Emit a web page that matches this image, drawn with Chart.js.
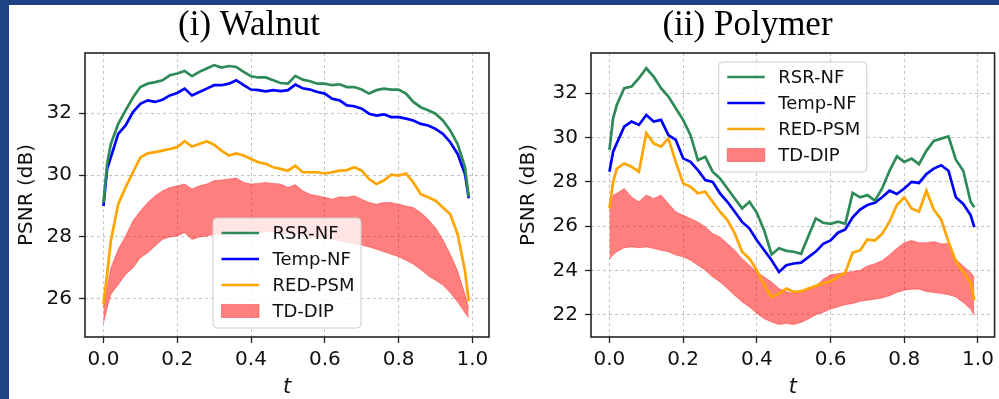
<!DOCTYPE html>
<html>
<head>
<meta charset="utf-8">
<script src="https://cdn.jsdelivr.net/npm/chart.js@4/dist/chart.umd.min.js"></script>
<style>
    html, body { margin: 0; padding: 0; }
    body { width: 999px; height: 399px; background: #1f4287; position: relative; overflow: hidden; }
    #panel { position: absolute; left: 9px; top: 5px; width: 990px; height: 394px; background: #fff; }
    canvas { position: absolute; top: 0; }
    #walnutChart { left: 0; }
    #polymerChart { left: 490px; }
</style>
</head>
<body>
<div id="panel">
    <canvas id="walnutChart" width="490" height="394"></canvas>
    <canvas id="polymerChart" width="500" height="394"></canvas>
</div>
<script>
// Time axis (normalised frame index)
const tValues = [0, 0.01, 0.02, 0.04, 0.06, 0.08, 0.1, 0.12, 0.14, 0.16, 0.18, 0.2, 0.22, 0.24, 0.26, 0.28, 0.3, 0.32, 0.34, 0.36, 0.38, 0.4, 0.42, 0.44, 0.46, 0.48, 0.5,
    0.52, 0.54, 0.56, 0.58, 0.6, 0.62, 0.64, 0.66, 0.68, 0.7, 0.72, 0.74, 0.76, 0.78, 0.8, 0.82, 0.84, 0.86, 0.88, 0.9, 0.92, 0.94, 0.96, 0.98, 0.99];

const xTicks = [0, 0.2, 0.4, 0.6, 0.8, 1.0];
const walnutYTicks = [26, 28, 30, 32];
const polymerYTicks = [22, 24, 26, 28, 30, 32];

// (i) Walnut
const walnutRSR = [29.1, 30.36, 31.0, 31.65, 32.09, 32.5, 32.84, 32.95, 33.0, 33.06, 33.22, 33.28, 33.36, 33.19, 33.33, 33.44, 33.55, 33.47, 33.52, 33.49, 33.33, 33.19, 33.15, 33.15, 33.06, 32.97, 32.95,
    33.2, 33.08, 33.03, 32.95, 32.95, 32.9, 32.93, 32.84, 32.84, 32.76, 32.63, 32.74, 32.79, 32.76, 32.76, 32.63, 32.36, 32.19, 32.09, 31.98, 31.76, 31.44, 31.0, 30.25, 29.3];
const walnutTemp = [29.0, 30.2, 30.57, 31.33, 31.6, 32.03, 32.3, 32.41, 32.36, 32.43, 32.57, 32.65, 32.79, 32.57, 32.68, 32.79, 32.9, 32.9, 32.95, 33.06, 32.9, 32.76, 32.74, 32.7, 32.74, 32.71, 32.74,
    32.92, 32.8, 32.76, 32.68, 32.63, 32.46, 32.41, 32.25, 32.22, 32.14, 31.98, 31.92, 31.96, 31.87, 31.87, 31.82, 31.76, 31.65, 31.6, 31.49, 31.33, 31.06, 30.68, 30.03, 29.25];
const walnutRED = [25.82, 26.8, 27.87, 29.06, 29.6, 30.09, 30.57, 30.7, 30.74, 30.79, 30.84, 30.9, 31.09, 30.92, 31.0, 31.09, 30.98, 30.79, 30.63, 30.7, 30.63, 30.52, 30.41, 30.36, 30.25, 30.2, 30.14,
    30.3, 30.09, 30.09, 30.09, 30.05, 30.09, 30.14, 30.16, 30.25, 30.14, 29.87, 29.71, 29.82, 30.01, 29.98, 30.05, 29.76, 29.38, 29.28, 29.17, 28.95, 28.73, 28.09, 26.9, 25.92];
const walnutDipHigh = [25.7, 26.36, 27.0, 27.6, 28.03, 28.52, 28.84, 29.11, 29.33, 29.49, 29.6, 29.65, 29.71, 29.55, 29.65, 29.71, 29.82, 29.84, 29.87, 29.9, 29.76, 29.71, 29.73, 29.76, 29.73, 29.71, 29.6,
    29.69, 29.49, 29.38, 29.33, 29.28, 29.22, 29.3, 29.28, 29.33, 29.22, 29.11, 29.06, 29.11, 29.11, 29.06, 29.0, 28.95, 28.79, 28.57, 28.3, 27.92, 27.44, 26.9, 26.14, 25.7];
const walnutDipLow = [25.2, 25.7, 26.14, 26.46, 26.79, 27.0, 27.33, 27.49, 27.71, 27.92, 28.0, 28.03, 28.14, 27.92, 28.0, 28.03, 28.09, 28.09, 28.11, 28.1, 28.11, 28.14, 28.14, 28.17, 28.17, 28.1, 28.1,
    28.1, 28.05, 28.0, 28.0, 27.95, 27.92, 27.88, 27.82, 27.78, 27.74, 27.68, 27.6, 27.52, 27.44, 27.36, 27.25, 27.12, 26.95, 26.75, 26.6, 26.45, 26.2, 25.9, 25.55, 25.38];

// (ii) Polymer
const polymerRSR = [29.44, 30.87, 31.47, 32.23, 32.3, 32.68, 33.13, 32.75, 32.23, 31.85, 31.32, 30.8, 30.11, 28.98, 29.13, 28.46, 28.15, 27.7, 27.25, 26.8, 27.1, 26.6, 25.8, 24.72, 25.0, 24.88, 24.84,
    24.75, 25.55, 26.35, 26.15, 26.1, 26.2, 26.1, 27.5, 27.3, 27.4, 27.15, 27.7, 28.5, 29.15, 28.9, 29.05, 28.8, 29.4, 29.85, 29.95, 30.05, 29.0, 28.5, 27.1, 26.85];
const polymerTemp = [28.46, 29.36, 29.74, 30.49, 30.72, 30.57, 31.02, 30.72, 30.8, 30.11, 29.89, 29.06, 28.9, 28.53, 28.08, 28.0, 27.48, 27.1, 26.65, 26.19, 25.89, 25.36, 24.91, 24.46, 23.93, 24.23, 24.31,
    24.35, 24.6, 24.85, 25.2, 25.35, 25.7, 25.85, 26.4, 26.75, 26.95, 27.05, 27.3, 27.6, 27.45, 27.7, 28.0, 27.95, 28.35, 28.6, 28.75, 28.5, 27.3, 27.0, 26.5, 25.95];
const polymerRED = [26.8, 28.0, 28.6, 28.83, 28.68, 28.46, 30.2, 29.74, 29.59, 29.96, 28.9, 27.93, 27.78, 27.48, 27.55, 27.1, 26.65, 26.27, 25.67, 24.84, 24.53, 24.0, 23.33, 22.8, 22.95, 23.18, 23.03,
    23.05, 23.18, 23.3, 23.42, 23.5, 23.7, 23.9, 24.8, 24.9, 25.4, 25.35, 25.65, 26.2, 26.95, 27.3, 26.8, 26.65, 27.6, 26.75, 26.3, 25.3, 24.4, 23.95, 23.45, 22.65];
const polymerDipHigh = [26.65, 27.4, 27.48, 27.7, 27.32, 27.1, 27.4, 27.25, 27.4, 27.02, 26.65, 26.49, 26.34, 26.19, 25.97, 25.67, 25.51, 25.21, 24.91, 24.53, 24.23, 23.93, 23.7, 23.48, 23.18, 23.03, 22.95,
    23.0, 23.1, 23.3, 23.6, 23.8, 23.85, 23.9, 23.95, 24.0, 24.2, 24.3, 24.45, 24.7, 25.0, 25.25, 25.35, 25.25, 25.25, 25.3, 25.2, 25.2, 24.5, 24.2, 23.9, 23.7];
const polymerDipLow = [24.53, 24.69, 24.84, 25.02, 25.06, 25.02, 25.06, 24.99, 24.91, 24.84, 24.69, 24.61, 24.46, 24.23, 24.01, 23.7, 23.48, 23.18, 22.87, 22.57, 22.35, 22.05, 21.82, 21.67, 21.55, 21.6, 21.55,
    21.65, 21.8, 22.0, 22.1, 22.25, 22.35, 22.45, 22.5, 22.6, 22.65, 22.7, 22.75, 22.85, 23.0, 23.1, 23.15, 23.15, 23.05, 23.0, 22.95, 22.9, 22.8, 22.55, 22.25, 21.95];

const GREEN = '#2e8b57';
const BLUE = '#0000ff';
const ORANGE = '#ffa500';
const RED_FILL = 'rgba(255, 0, 0, 0.5)';
const RED_EDGE = 'rgba(255, 0, 0, 0.35)';
const TEXT = '#111';

Chart.defaults.font.family = "'DejaVu Sans', sans-serif";
Chart.defaults.color = TEXT;

const toPoints = arr => tValues.map((t, i) => ({ x: t, y: arr[i] }));

// axes box + matplotlib-like legend drawn over the data
const boxLegendPlugin = {
    id: 'boxLegend',
    afterDatasetsDraw(chart, args, opts) {
        const { ctx, chartArea: a } = chart;
        ctx.save();
        ctx.strokeStyle = '#222';
        ctx.lineWidth = 1.6;
        ctx.strokeRect(a.left, a.top, a.right - a.left, a.bottom - a.top);

        const boxW = 148, boxH = 110;
        const x0 = (a.left + a.right) / 2 - boxW / 2;
        const y0 = opts.loc === 'lower' ? a.bottom - 9 - boxH : a.top + 9;
        ctx.beginPath();
        ctx.roundRect(x0, y0, boxW, boxH, 4);
        ctx.fillStyle = 'rgba(255,255,255,0.8)';
        ctx.fill();
        ctx.strokeStyle = '#cccccc';
        ctx.lineWidth = 1;
        ctx.stroke();

        const items = chart.data.datasets.filter(d => d.legendKind);
        ctx.font = "18px 'DejaVu Sans'";
        ctx.textBaseline = 'middle';
        items.forEach((d, i) => {
            const yc = y0 + 15 + 26 * i;
            if (d.legendKind === 'line') {
                ctx.strokeStyle = d.borderColor;
                ctx.lineWidth = 2.7;
                ctx.beginPath();
                ctx.moveTo(x0 + 8.5, yc);
                ctx.lineTo(x0 + 46, yc);
                ctx.stroke();
            } else {
                ctx.fillStyle = d.backgroundColor;
                ctx.fillRect(x0 + 8.5, yc - 6.5, 37.5, 13);
                ctx.strokeStyle = RED_EDGE;
                ctx.lineWidth = 1;
                ctx.strokeRect(x0 + 8.5, yc - 6.5, 37.5, 13);
            }
            ctx.fillStyle = TEXT;
            ctx.fillText(d.label, x0 + 59.5, yc + 1);
        });
        ctx.restore();
    }
};

function buildChart(canvasId, cfg) {
    const lineSet = (label, arr, color) => ({
        label: label, data: toPoints(arr), borderColor: color, backgroundColor: color,
        borderWidth: 2.7, pointRadius: 0, fill: false, tension: 0, legendKind: 'line'
    });

    return new Chart(document.getElementById(canvasId), {
        type: 'line',
        data: {
            datasets: [
                lineSet('RSR-NF', cfg.rsr, GREEN),
                lineSet('Temp-NF', cfg.temp, BLUE),
                lineSet('RED-PSM', cfg.red, ORANGE),
                {
                    label: 'TD-DIP low', data: toPoints(cfg.dipLow), borderColor: RED_EDGE,
                    borderWidth: 1, pointRadius: 0, fill: false
                },
                {
                    label: 'TD-DIP', data: toPoints(cfg.dipHigh), borderColor: RED_EDGE,
                    backgroundColor: RED_FILL, borderWidth: 1, pointRadius: 0, fill: '-1', legendKind: 'fill'
                }
            ]
        },
        options: {
            responsive: false,
            animation: false,
            devicePixelRatio: 1,
            layout: { padding: { left: 0, right: cfg.rightPad, top: 0, bottom: 0 } },
            plugins: {
                legend: { display: false },
                tooltip: { enabled: false },
                title: {
                    display: true,
                    text: cfg.title,
                    color: '#000',
                    font: { family: "'Liberation Serif', serif", size: 35, weight: 'normal', lineHeight: 1.2 },
                    padding: { top: 0, bottom: 6 }
                },
                boxLegend: { loc: cfg.legendLoc }
            },
            scales: {
                x: {
                    type: 'linear',
                    min: -0.05,
                    max: 1.045,
                    afterBuildTicks: s => { s.ticks = xTicks.map(v => ({ value: v })); },
                    afterFit: s => { s.height = 62; },
                    ticks: { callback: v => v.toFixed(1), font: { size: 20 }, color: TEXT, padding: 5, maxRotation: 0, autoSkip: false },
                    grid: { color: '#c4c4c4', lineWidth: 1, drawTicks: true, tickLength: 6, tickColor: '#222', tickWidth: 1.3 },
                    border: { display: false, dash: [3, 3] },
                    title: {
                        display: true, text: 't', color: TEXT,
                        font: { size: 21, style: 'italic', lineHeight: 1 },
                        padding: { top: 0, bottom: 0.5 }
                    }
                },
                y: {
                    min: cfg.yMin,
                    max: cfg.yMax,
                    afterBuildTicks: s => { s.ticks = cfg.yTicks.map(v => ({ value: v })); },
                    afterFit: s => { s.width = cfg.yWidth; },
                    ticks: { font: { size: 20 }, color: TEXT, padding: 7 },
                    grid: { color: '#c4c4c4', lineWidth: 1, drawTicks: true, tickLength: 6, tickColor: '#222', tickWidth: 1.3 },
                    border: { display: false, dash: [3, 3] },
                    title: {
                        display: true, text: 'PSNR (dB)', color: TEXT,
                        font: { size: 20, lineHeight: 1.2 },
                        padding: { top: cfg.yTitlePad, bottom: 0 }
                    }
                }
            }
        },
        plugins: [boxLegendPlugin]
    });
}

buildChart('walnutChart', {
    title: '(i) Walnut',
    rsr: walnutRSR, temp: walnutTemp, red: walnutRED, dipHigh: walnutDipHigh, dipLow: walnutDipLow,
    yMin: 24.77, yMax: 33.94, yTicks: walnutYTicks,
    yWidth: 76, rightPad: 10, yTitlePad: 5.5, legendLoc: 'lower'
});

buildChart('polymerChart', {
    title: '(ii) Polymer',
    rsr: polymerRSR, temp: polymerTemp, red: polymerRED, dipHigh: polymerDipHigh, dipLow: polymerDipLow,
    yMin: 20.99, yMax: 33.82, yTicks: polymerYTicks,
    yWidth: 92, rightPad: 3, yTitlePad: 18, legendLoc: 'upper'
});
</script>
</body>
</html>
